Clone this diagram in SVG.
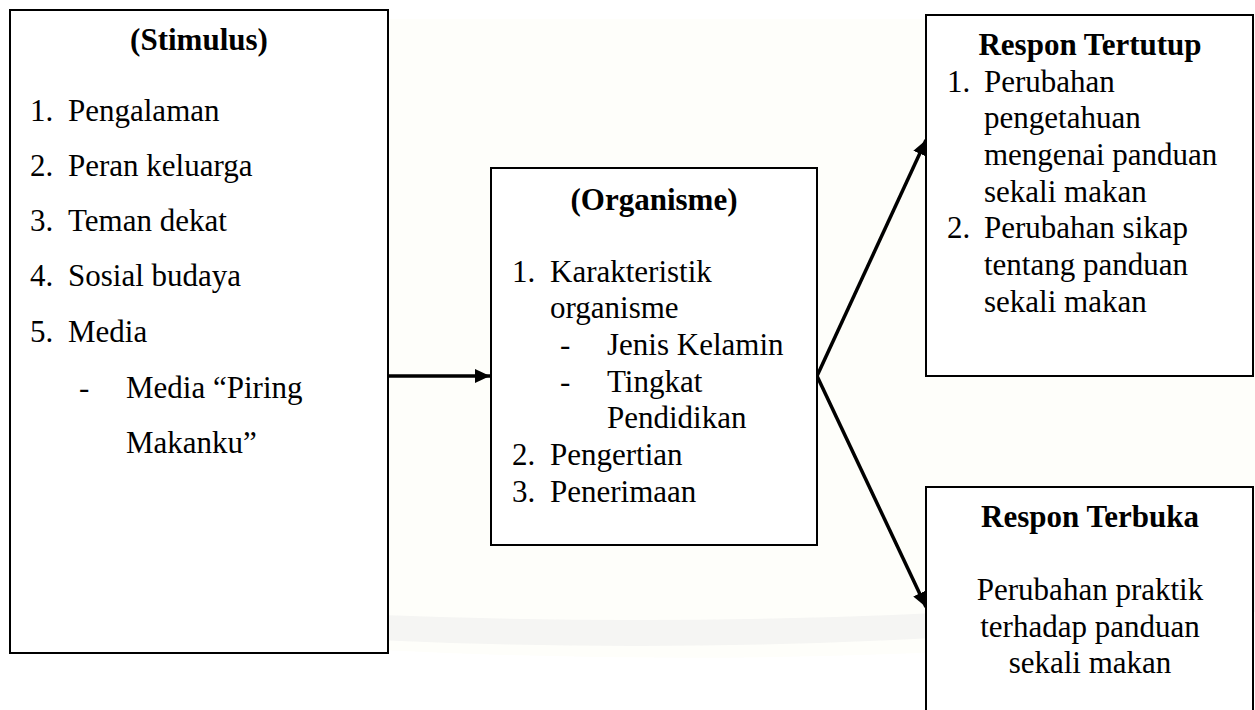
<svg xmlns="http://www.w3.org/2000/svg" width="1255" height="710" viewBox="0 0 1255 710">
  <style>
    .box { fill: #ffffff; stroke: #000000; stroke-width: 2; }
    .t { font-family: "Liberation Serif", "Times New Roman", serif; font-size: 31px; fill: #000000; }
    .b { font-weight: bold; }
    .c { text-anchor: middle; }
    .conn { stroke: #000000; stroke-width: 3.5; fill: none; marker-end: url(#ah); }
  </style>
  <defs>
    <marker id="ah" markerUnits="userSpaceOnUse" markerWidth="16" markerHeight="14" refX="15" refY="7" orient="auto">
      <path d="M0,0 L15,7 L0,14 z" fill="#000000"/>
    </marker>
  </defs>

  <rect x="0" y="0" width="1255" height="710" fill="#ffffff"/>
  <g id="watermark">
    <path d="M10,19 L1255,19 L1255,630 Q640,690 10,620 Z" fill="#fefefa"/>
    <path d="M10,590 Q640,650 1255,590 L1255,612 Q640,680 10,612 Z" fill="#f5f5f3"/>
    <path d="M60,25 Q120,120 160,160 L130,170 Q90,110 40,40 Z" fill="#f4f4f3"/>
    <path d="M1180,25 Q1120,120 1080,160 L1110,170 Q1150,110 1200,40 Z" fill="#f4f4f3"/>
  </g>

  <g id="connectors">
    <line class="conn" x1="389" y1="376" x2="490" y2="376"/>
    <line class="conn" x1="817" y1="376" x2="926" y2="140"/>
    <line class="conn" x1="817" y1="376" x2="926" y2="607"/>
  </g>

  <g id="stimulus">
    <rect class="box" x="10" y="10" width="378" height="643"/>
    <text class="t b c" x="199" y="50">(Stimulus)</text>
    <text class="t" x="30" y="121">1.</text><text class="t" x="68" y="121">Pengalaman</text>
    <text class="t" x="30" y="176">2.</text><text class="t" x="68" y="176">Peran keluarga</text>
    <text class="t" x="30" y="231">3.</text><text class="t" x="68" y="231">Teman dekat</text>
    <text class="t" x="30" y="286">4.</text><text class="t" x="68" y="286">Sosial budaya</text>
    <text class="t" x="30" y="342">5.</text><text class="t" x="68" y="342">Media</text>
    <text class="t" x="79" y="398">-</text><text class="t" x="126" y="398">Media “Piring</text>
    <text class="t" x="126" y="453">Makanku”</text>
  </g>

  <g id="organisme">
    <rect class="box" x="491" y="168" width="326" height="377"/>
    <text class="t b c" x="654" y="210">(Organisme)</text>
    <text class="t" x="512" y="282">1.</text><text class="t" x="550" y="282">Karakteristik</text>
    <text class="t" x="550" y="318">organisme</text>
    <text class="t" x="560" y="355">-</text><text class="t" x="607" y="355">Jenis Kelamin</text>
    <text class="t" x="560" y="392">-</text><text class="t" x="607" y="392">Tingkat</text>
    <text class="t" x="607" y="428">Pendidikan</text>
    <text class="t" x="512" y="465">2.</text><text class="t" x="550" y="465">Pengertian</text>
    <text class="t" x="512" y="502">3.</text><text class="t" x="550" y="502">Penerimaan</text>
  </g>

  <g id="respon-tertutup">
    <rect class="box" x="926" y="15" width="327" height="361"/>
    <text class="t b c" x="1090" y="55">Respon Tertutup</text>
    <text class="t" x="947" y="92">1.</text><text class="t" x="984" y="92">Perubahan</text>
    <text class="t" x="984" y="128">pengetahuan</text>
    <text class="t" x="984" y="165">mengenai panduan</text>
    <text class="t" x="984" y="202">sekali makan</text>
    <text class="t" x="947" y="238">2.</text><text class="t" x="984" y="238">Perubahan sikap</text>
    <text class="t" x="984" y="275">tentang panduan</text>
    <text class="t" x="984" y="312">sekali makan</text>
  </g>

  <g id="respon-terbuka">
    <rect class="box" x="926" y="487" width="327" height="240"/>
    <text class="t b c" x="1090" y="527">Respon Terbuka</text>
    <text class="t c" x="1090" y="600">Perubahan praktik</text>
    <text class="t c" x="1090" y="637">terhadap panduan</text>
    <text class="t c" x="1090" y="673">sekali makan</text>
  </g>
</svg>
